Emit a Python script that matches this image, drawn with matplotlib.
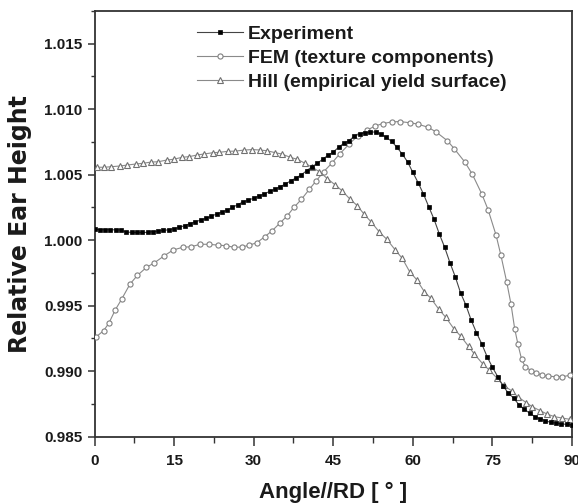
import matplotlib
matplotlib.use("Agg")
import matplotlib.pyplot as plt
from matplotlib.ticker import MultipleLocator, FormatStrFormatter

# ---------------- data ----------------
exp_angle = list(range(0, 91))
exp_height = [
    1.00084, 1.00080, 1.00080, 1.00080, 1.00079, 1.00078, 1.00062, 1.00060, 1.00059, 1.00059,
    1.00060, 1.00066, 1.00070, 1.00075, 1.00080, 1.00088, 1.00098, 1.00112, 1.00126, 1.00140,
    1.00154, 1.00167, 1.00183, 1.00200, 1.00215, 1.00230, 1.00250, 1.00272, 1.00292, 1.00307,
    1.00320, 1.00338, 1.00353, 1.00373, 1.00389, 1.00409, 1.00429, 1.00454, 1.00475, 1.00500,
    1.00531, 1.00561, 1.00587, 1.00618, 1.00648, 1.00673, 1.00709, 1.00740, 1.00760, 1.00796,
    1.00811, 1.00821, 1.00826, 1.00826, 1.00811, 1.00785, 1.00755, 1.00710, 1.00658, 1.00599,
    1.00518, 1.00439, 1.00353, 1.00256, 1.00160, 1.00047, 0.99946, 0.99828, 0.99721, 0.99598,
    0.99505, 0.99390, 0.99294, 0.99208, 0.99111, 0.99030, 0.98959, 0.98888, 0.98833, 0.98795,
    0.98744, 0.98711, 0.98680, 0.98654, 0.98635, 0.98622, 0.98609, 0.98604, 0.98598, 0.98594,
    0.98590,
]

fem_angle = [
    0.3, 1.7, 2.7, 3.9, 5.1, 6.7, 8.1, 9.8, 11.3, 13.1, 14.8, 16.6, 18.2, 19.9, 21.5, 23.2,
    24.8, 26.3, 27.8, 29.2, 30.6, 32.1, 33.5, 34.9, 36.3, 37.6, 39.0, 40.5, 41.8, 43.2, 44.7,
    46.2, 48.0, 49.6, 51.4, 52.9, 54.3, 56.0, 57.5, 59.4, 60.9, 62.9, 64.4, 66.5, 67.8, 69.8,
    71.2, 73.0, 74.2, 75.7, 76.6, 77.7, 78.5, 79.2, 79.8, 80.5, 81.2, 82.3, 83.2, 84.4, 85.4,
    86.9, 88.2, 89.6,
]
fem_height = [
    0.99262, 0.99309, 0.99366, 0.99467, 0.99549, 0.99666, 0.99732, 0.99793, 0.99828, 0.99880,
    0.99925, 0.99946, 0.99950, 0.99969, 0.99969, 0.99963, 0.99958, 0.99946, 0.99948, 0.99963,
    0.99981, 1.00027, 1.00073, 1.00129, 1.00185, 1.00251, 1.00312, 1.00389, 1.00454, 1.00523,
    1.00587, 1.00658, 1.00734, 1.00796, 1.00841, 1.00872, 1.00890, 1.00903, 1.00906, 1.00897,
    1.00887, 1.00862, 1.00826, 1.00760, 1.00699, 1.00597, 1.00505, 1.00353, 1.00231, 1.00037,
    0.99885, 0.99680, 0.99513, 0.99324, 0.99208, 0.99091, 0.99034, 0.99004, 0.98989, 0.98969,
    0.98963, 0.98958, 0.98958, 0.98969,
]

hill_angle = [
    0.4, 1.8, 3.1, 4.9, 6.2, 7.8, 9.1, 10.7, 12.0, 13.6, 14.9, 16.5, 17.8, 19.4, 20.6, 22.3,
    23.5, 25.2, 26.5, 28.1, 29.7, 31.1, 32.5, 34.1, 35.3, 36.9, 38.2, 39.7, 41.0, 42.4, 43.9,
    45.4, 46.7, 48.1, 49.5, 50.8, 52.2, 53.7, 55.1, 56.7, 58.0, 59.4, 60.7, 62.2, 63.4, 64.9,
    66.2, 67.7, 69.0, 70.5, 71.6, 73.2, 74.4, 75.9, 77.1, 78.6, 79.9, 81.4, 82.5, 84.0, 85.3,
    86.7, 88.1, 89.6,
]
hill_height = [
    1.00557, 1.00557, 1.00561, 1.00567, 1.00574, 1.00582, 1.00587, 1.00597, 1.00599, 1.00612,
    1.00618, 1.00633, 1.00638, 1.00651, 1.00658, 1.00668, 1.00671, 1.00679, 1.00680, 1.00688,
    1.00692, 1.00689, 1.00683, 1.00668, 1.00658, 1.00633, 1.00618, 1.00587, 1.00557, 1.00523,
    1.00470, 1.00421, 1.00377, 1.00316, 1.00265, 1.00200, 1.00137, 1.00062, 1.00007, 0.99925,
    0.99862, 0.99760, 0.99700, 0.99605, 0.99557, 0.99473, 0.99412, 0.99326, 0.99269, 0.99190,
    0.99131, 0.99055, 0.99009, 0.98946, 0.98892, 0.98851, 0.98801, 0.98760, 0.98729, 0.98699,
    0.98673, 0.98653, 0.98643, 0.98633,
]

labels = ["Experiment", "FEM (texture components)", "Hill (empirical yield surface)"]
x_ticks = [0, 15, 30, 45, 60, 75, 90]
y_ticks = [0.985, 0.990, 0.995, 1.000, 1.005, 1.010, 1.015]

# ---------------- figure ----------------
plt.rcParams['font.family'] = ['Liberation Sans', 'DejaVu Sans']
fig = plt.figure(figsize=(5.78, 5.04), dpi=100)
ax = fig.add_axes([0.1635, 0.1335, 0.8261, 0.8447])

ax.plot(exp_angle, exp_height, color='#444444', lw=0.8, marker='s', ms=3.4,
        mfc='black', mec='black', mew=0.5, label=labels[0], zorder=4)
ax.plot(fem_angle, fem_height, color='#8a8a8a', lw=0.8, marker='o', ms=3.7,
        mfc='white', mec='#808080', mew=0.8, label=labels[1], zorder=3)
ax.plot(hill_angle, hill_height, color='#8a8a8a', lw=0.8, marker='^', ms=4.6,
        mfc='white', mec='#707070', mew=0.8, label=labels[2], zorder=3)

ax.set_xlim(0, 90)
ax.set_ylim(0.985, 1.0175)
ax.set_xticks(x_ticks)
ax.set_yticks(y_ticks)
ax.xaxis.set_minor_locator(MultipleLocator(7.5))
ax.yaxis.set_minor_locator(MultipleLocator(0.0025))
ax.yaxis.set_major_formatter(FormatStrFormatter('%.3f'))

for s in ax.spines.values():
    s.set_linewidth(1.3)
    s.set_color('#333333')

ax.tick_params(axis='x', which='major', direction='out', length=6.2, width=1.1,
               color='#333333', labelsize=11, pad=6)
ax.tick_params(axis='x', which='minor', direction='out', length=4, width=1.0, color='#333333')
ax.tick_params(axis='y', which='major', direction='out', length=5, width=1.1,
               color='#333333', labelsize=11, pad=3.5)
ax.tick_params(axis='y', which='minor', direction='out', length=3, width=1.0, color='#333333')
ax.tick_params(top=False, right=False, which='both')
for lab in ax.get_xticklabels() + ax.get_yticklabels():
    lab.set_fontweight('bold')
    lab.set_color('#1a1a1a')

ax.set_xlabel('Angle//RD [ ° ]', fontsize=16, fontweight='bold', color='#1a1a1a', labelpad=10)
ax.set_ylabel('Relative Ear Height', fontsize=17, fontweight='bold', color='#1a1a1a',
              family=['DejaVu Sans'], labelpad=9)

leg = ax.legend(loc='upper left', bbox_to_anchor=(0.2147, 0.9656), frameon=False,
                prop={'weight': 'bold', 'size': 14}, handlelength=2.37,
                handletextpad=0.26, labelspacing=0.33, borderpad=0, borderaxespad=0)
for t in leg.get_texts():
    t.set_color('#1a1a1a')

fig.savefig('out.png', dpi=100)
